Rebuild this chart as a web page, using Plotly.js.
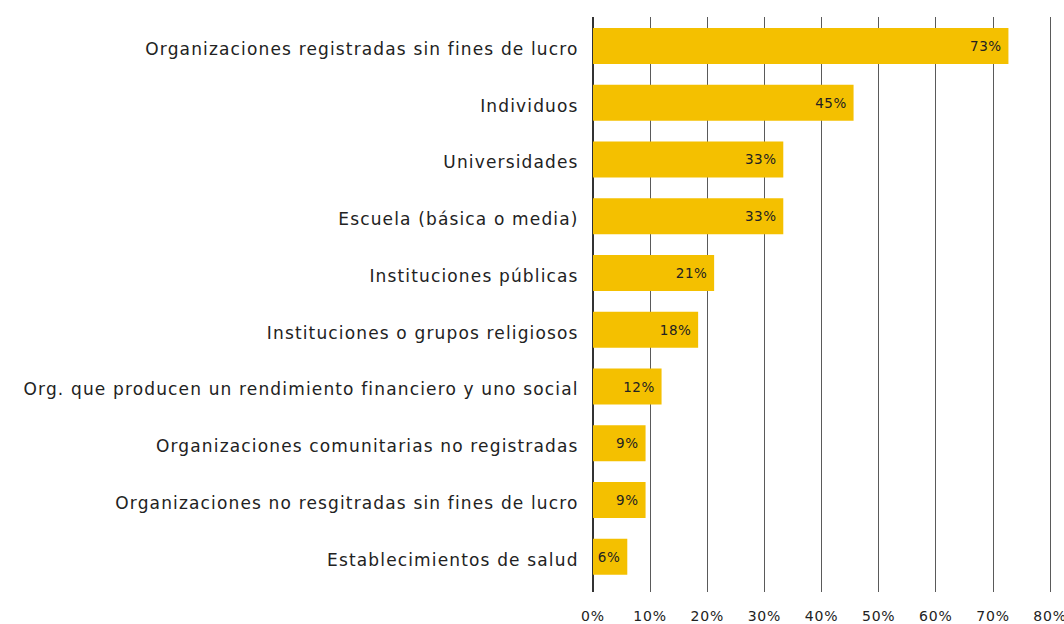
<!DOCTYPE html>
<html>
<head>
<meta charset="utf-8">
<script src="https://cdn.plot.ly/plotly-3.0.1.min.js"></script>
<style>
html,body{margin:0;padding:0;background:#fff}
#chart{width:1064px;height:624px}
#chart .ytick text{letter-spacing:1.15px}
#chart .xtick text{letter-spacing:0.8px}
#chart .bartext{letter-spacing:0.5px}
</style>
</head>
<body>
<div id="chart"></div>
<script>
const categories = [
  "Organizaciones registradas sin fines de lucro",
  "Individuos",
  "Universidades",
  "Escuela (básica o media)",
  "Instituciones públicas",
  "Instituciones o grupos religiosos",
  "Org. que producen un rendimiento financiero y uno social",
  "Organizaciones comunitarias no registradas",
  "Organizaciones no resgitradas sin fines de lucro",
  "Establecimientos de salud"
];
const values = [72.7, 45.6, 33.3, 33.3, 21.2, 18.4, 12.0, 9.2, 9.2, 6.0];
const valueLabels = ["73%", "45%", "33%", "33%", "21%", "18%", "12%", "9%", "9%", "6%"];
const tickValues = [0, 10, 20, 30, 40, 50, 60, 70, 80];
const tickLabels = ["0%", "10%", "20%", "30%", "40%", "50%", "60%", "70%", "80%"];

const cats = categories.slice().reverse();
const vals = values.slice().reverse();
const txt = valueLabels.slice().reverse().map(t => t + "\u00a0");

const FONT = "DejaVu Sans, sans-serif";
Plotly.newPlot("chart", [{
  type: "bar",
  orientation: "h",
  y: cats,
  x: vals,
  text: txt,
  textposition: "inside",
  insidetextanchor: "end",
  constraintext: "none",
  textfont: {family: FONT, size: 13.5, color: "#222"},
  marker: {color: "#F4C000"},
  width: 0.634,
  hoverinfo: "none"
}], {
  width: 1064, height: 624,
  margin: {l: 593, r: 11, t: 17, b: 32},
  paper_bgcolor: "#fff", plot_bgcolor: "#fff",
  showlegend: false,
  font: {family: FONT, color: "#222"},
  xaxis: {
    range: [0, 80.5],
    tickvals: tickValues,
    ticktext: tickLabels,
    ticklabeloverflow: "allow",
    showgrid: true,
    gridcolor: "#5a5a5a",
    gridwidth: 1,
    zeroline: true,
    zerolinecolor: "#333",
    zerolinewidth: 1.5,
    layer: "above traces",
    ticks: "outside", ticklen: 11, tickcolor: "rgba(0,0,0,0)",
    tickfont: {family: FONT, size: 14, color: "#222"},
    fixedrange: true
  },
  yaxis: {
    type: "category",
    range: [-0.62, 9.51],
    showgrid: false,
    zeroline: false,
    ticks: "outside", ticklen: 10, tickcolor: "rgba(0,0,0,0)",
    tickfont: {family: FONT, size: 17, color: "#222"},
    fixedrange: true
  }
}, {staticPlot: true}).then(function (gd) {
  gd.querySelectorAll(".ytick text").forEach(function (t) {
    t.setAttribute("dy", "3");
  });
});
</script>
</body>
</html>
